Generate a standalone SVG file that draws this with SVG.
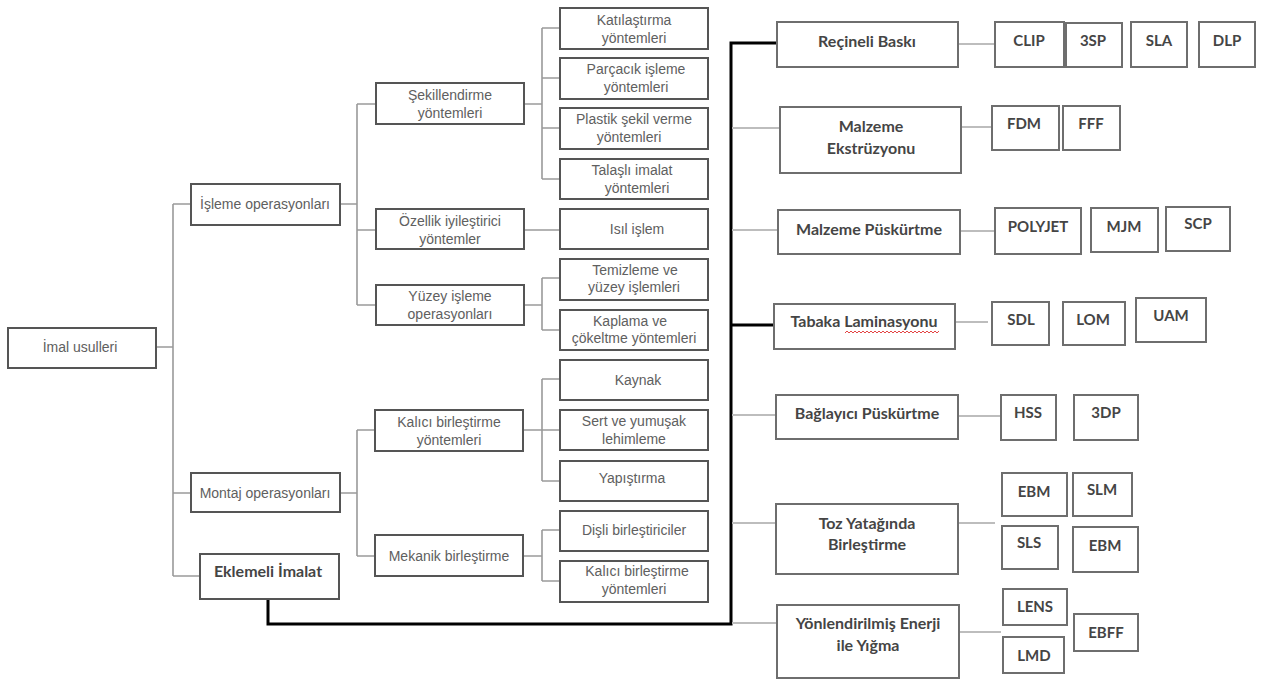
<svg xmlns="http://www.w3.org/2000/svg" width="1263" height="679" viewBox="0 0 1263 679">
<style>
  .bg{fill:#ffffff}
  .lb{fill:#ffffff;stroke:#555555;stroke-width:2}
  .rb{fill:#ffffff;stroke:#6e6e6e;stroke-width:2}
  .lt{font-family:"Liberation Sans",Arial,sans-serif;font-size:14px;fill:#606060;text-anchor:middle}
  .rt{font-family:Lato,"Liberation Sans",sans-serif;font-weight:700;font-size:16px;fill:#454545;text-anchor:middle}
  .st{font-family:Lato,"Liberation Sans",sans-serif;font-weight:700;font-size:15px;fill:#454545;text-anchor:middle}
  .lc{fill:none;stroke:#9a9a9a;stroke-width:1.6}
  .rc{fill:none;stroke:#bdbdbd;stroke-width:2}
  .tk{fill:none;stroke:#000000;stroke-width:3;stroke-linejoin:miter}
  .sq{fill:none;stroke:#e03030;stroke-width:0.9}
</style>
<rect class="bg" x="0" y="0" width="1263" height="679"/>

<g id="connectors">
  <!-- left tree -->
  <path class="lc" d="M156,347 H173 M173,204 V576 M173,204 H191 M173,493 H191 M173,576 H200"/>
  <path class="lc" d="M340,204 H357 M357,104 V305 M357,104 H376 M357,230 H376 M357,305 H376"/>
  <path class="lc" d="M340,493 H357 M357,430 V556 M357,430 H375 M357,556 H375"/>
  <path class="lc" d="M524,104 H542 M542,28 V179 M542,28 H560 M542,78 H560 M542,128 H560 M542,179 H560"/>
  <path class="lc" d="M524,230 H560"/>
  <path class="lc" d="M524,305 H542 M542,278 V330 M542,278 H560 M542,330 H560"/>
  <path class="lc" d="M523,430 H542 M542,379 V481 M542,379 H560 M542,430 H560 M542,481 H560"/>
  <path class="lc" d="M523,556 H542 M542,530 V581 M542,530 H560 M542,581 H560"/>
  <!-- thick connector -->
  <path class="tk" d="M268,599 V624 H731 V43 H777"/>
  <path class="tk" d="M731,325 H774"/>
  <!-- grey branches from thick line -->
  <path class="rc" d="M732,128 H780 M732,230 H778 M732,415 H776 M732,523 H776 M732,623 H777"/>
  <!-- right connectors -->
  <path class="rc" d="M958,44 H995 M961,127 H992 M960,231 H995 M955,322 H988 M958,416 H1001 M958,523 H995 M959,632 H1001"/>
</g>

<g id="imal-usulleri"><rect class="lb" x="8" y="328" width="148" height="40"/><text class="lt" x="80" y="352">İmal usulleri</text></g>
<g id="isleme-operasyonlari"><rect class="lb" x="191" y="184" width="149" height="41"/><text class="lt" x="265" y="209">İşleme operasyonları</text></g>
<g id="montaj-operasyonlari"><rect class="lb" x="191" y="473" width="149" height="39"/><text class="lt" x="265" y="498">Montaj operasyonları</text></g>
<g id="eklemeli-imalat"><rect class="lb" x="200" y="554" width="139" height="45"/><text class="rt" x="268" y="577">Eklemeli İmalat</text></g>

<g id="sekillendirme"><rect class="lb" x="376" y="83" width="148" height="41"/><text class="lt" x="450" y="100">Şekillendirme</text><text class="lt" x="450" y="118">yöntemleri</text></g>
<g id="ozellik"><rect class="lb" x="376" y="209" width="148" height="40"/><text class="lt" x="450" y="226">Özellik iyileştirici</text><text class="lt" x="450" y="244">yöntemler</text></g>
<g id="yuzey-isleme"><rect class="lb" x="376" y="285" width="148" height="40"/><text class="lt" x="450" y="301">Yüzey işleme</text><text class="lt" x="450" y="319">operasyonları</text></g>
<g id="kalici-birlestirme"><rect class="lb" x="375" y="410" width="148" height="41"/><text class="lt" x="449" y="427">Kalıcı birleştirme</text><text class="lt" x="449" y="445">yöntemleri</text></g>
<g id="mekanik-birlestirme"><rect class="lb" x="375" y="535" width="148" height="41"/><text class="lt" x="449" y="561">Mekanik birleştirme</text></g>

<g id="katilastirma"><rect class="lb" x="560" y="8" width="148" height="41"/><text class="lt" x="634" y="25">Katılaştırma</text><text class="lt" x="634" y="43">yöntemleri</text></g>
<g id="parcacik"><rect class="lb" x="560" y="58" width="148" height="41"/><text class="lt" x="636" y="74">Parçacık işleme</text><text class="lt" x="636" y="92">yöntemleri</text></g>
<g id="plastik"><rect class="lb" x="560" y="108" width="148" height="41"/><text class="lt" x="634" y="124">Plastik şekil verme</text><text class="lt" x="629" y="142">yöntemleri</text></g>
<g id="talasli"><rect class="lb" x="560" y="159" width="148" height="40"/><text class="lt" x="632" y="175">Talaşlı imalat</text><text class="lt" x="637" y="193">yöntemleri</text></g>
<g id="isil-islem"><rect class="lb" x="560" y="209" width="148" height="40"/><text class="lt" x="637" y="234">Isıl işlem</text></g>
<g id="temizleme"><rect class="lb" x="560" y="259" width="148" height="41"/><text class="lt" x="635" y="275">Temizleme ve</text><text class="lt" x="634" y="292">yüzey işlemleri</text></g>
<g id="kaplama"><rect class="lb" x="560" y="310" width="148" height="40"/><text class="lt" x="630" y="326">Kaplama ve</text><text class="lt" x="634" y="343">çökeltme yöntemleri</text></g>
<g id="kaynak"><rect class="lb" x="560" y="360" width="148" height="40"/><text class="lt" x="638" y="385">Kaynak</text></g>
<g id="sert-yumusak"><rect class="lb" x="560" y="410" width="148" height="40"/><text class="lt" x="634" y="426">Sert ve yumuşak</text><text class="lt" x="634" y="444">lehimleme</text></g>
<g id="yapistirma"><rect class="lb" x="560" y="461" width="148" height="40"/><text class="lt" x="632" y="483">Yapıştırma</text></g>
<g id="disli"><rect class="lb" x="560" y="511" width="148" height="40"/><text class="lt" x="634" y="535">Dişli birleştiriciler</text></g>
<g id="kalici-birlestirme-2"><rect class="lb" x="560" y="561" width="148" height="41"/><text class="lt" x="637" y="576">Kalıcı birleştirme</text><text class="lt" x="634" y="594">yöntemleri</text></g>

<g id="receineli-baski"><rect class="rb" x="777" y="22" width="181" height="45"/><text class="rt" x="867" y="47">Reçineli Baskı</text></g>
<g id="malzeme-ekstruzyonu"><rect class="rb" x="780" y="107" width="181" height="66"/><text class="rt" x="871" y="132">Malzeme</text><text class="rt" x="871" y="154">Ekstrüzyonu</text></g>
<g id="malzeme-puskurtme"><rect class="rb" x="778" y="210" width="182" height="44"/><text class="rt" x="869" y="235">Malzeme Püskürtme</text></g>
<g id="tabaka-laminasyonu"><rect class="rb" x="774" y="304" width="181" height="45"/><text class="rt" x="864" y="327">Tabaka Laminasyonu</text><path class="sq" d="M845,333 l2,-2 l2,2 l2,-2 l2,2 l2,-2 l2,2 l2,-2 l2,2 l2,-2 l2,2 l2,-2 l2,2 l2,-2 l2,2 l2,-2 l2,2 l2,-2 l2,2 l2,-2 l2,2 l2,-2 l2,2 l2,-2 l2,2 l2,-2 l2,2 l2,-2 l2,2 l2,-2 l2,2 l2,-2 l2,2 l2,-2 l2,2 l2,-2 l2,2 l2,-2 l2,2 l2,-2 l2,2 l2,-2 l2,2 l2,-2 l2,2 l2,-2 l2,2 l2,-2"/></g>
<g id="baglayici-puskurtme"><rect class="rb" x="776" y="395" width="182" height="44"/><text class="rt" x="867" y="419">Bağlayıcı Püskürtme</text></g>
<g id="toz-yatagi"><rect class="rb" x="776" y="504" width="182" height="70"/><text class="rt" x="867" y="529">Toz Yatağında</text><text class="rt" x="867" y="550">Birleştirme</text></g>
<g id="yonlendirilmis-enerji"><rect class="rb" x="777" y="605" width="182" height="73"/><text class="rt" x="868" y="629">Yönlendirilmiş Enerji</text><text class="rt" x="868" y="651">ile Yığma</text></g>

<g id="clip"><rect class="rb" x="995" y="22" width="69" height="45"/><text class="st" x="1029" y="46">CLIP</text></g>
<g id="3sp"><rect class="rb" x="1066" y="23" width="56" height="44"/><text class="st" x="1093" y="46">3SP</text></g>
<g id="sla"><rect class="rb" x="1131" y="22" width="56" height="45"/><text class="st" x="1159" y="46">SLA</text></g>
<g id="dlp"><rect class="rb" x="1199" y="22" width="56" height="45"/><text class="st" x="1227" y="46">DLP</text></g>
<g id="fdm"><rect class="rb" x="992" y="106" width="67" height="44"/><text class="st" x="1024" y="129">FDM</text></g>
<g id="fff"><rect class="rb" x="1063" y="106" width="57" height="44"/><text class="st" x="1091" y="129">FFF</text></g>
<g id="polyjet"><rect class="rb" x="995" y="208" width="86" height="46"/><text class="st" x="1038" y="232">POLYJET</text></g>
<g id="mjm"><rect class="rb" x="1091" y="208" width="67" height="44"/><text class="st" x="1124" y="232">MJM</text></g>
<g id="scp"><rect class="rb" x="1166" y="207" width="64" height="44"/><text class="st" x="1198" y="229">SCP</text></g>
<g id="sdl"><rect class="rb" x="992" y="302" width="57" height="43"/><text class="st" x="1021" y="325">SDL</text></g>
<g id="lom"><rect class="rb" x="1063" y="302" width="62" height="43"/><text class="st" x="1093" y="325">LOM</text></g>
<g id="uam"><rect class="rb" x="1136" y="298" width="70" height="44"/><text class="st" x="1171" y="321">UAM</text></g>
<g id="hss"><rect class="rb" x="1001" y="395" width="55" height="45"/><text class="st" x="1028" y="418">HSS</text></g>
<g id="3dp"><rect class="rb" x="1074" y="395" width="64" height="45"/><text class="st" x="1106" y="418">3DP</text></g>
<g id="ebm-1"><rect class="rb" x="1002" y="473" width="65" height="43"/><text class="st" x="1034" y="497">EBM</text></g>
<g id="slm"><rect class="rb" x="1073" y="473" width="59" height="43"/><text class="st" x="1102" y="495">SLM</text></g>
<g id="sls"><rect class="rb" x="1002" y="526" width="56" height="43"/><text class="st" x="1029" y="548">SLS</text></g>
<g id="ebm-2"><rect class="rb" x="1073" y="527" width="65" height="45"/><text class="st" x="1105" y="551">EBM</text></g>
<g id="lens"><rect class="rb" x="1003" y="589" width="64" height="36"/><text class="st" x="1035" y="612">LENS</text></g>
<g id="lmd"><rect class="rb" x="1003" y="637" width="61" height="36"/><text class="st" x="1034" y="661">LMD</text></g>
<g id="ebff"><rect class="rb" x="1074" y="614" width="64" height="37"/><text class="st" x="1106" y="638">EBFF</text></g>
</svg>
